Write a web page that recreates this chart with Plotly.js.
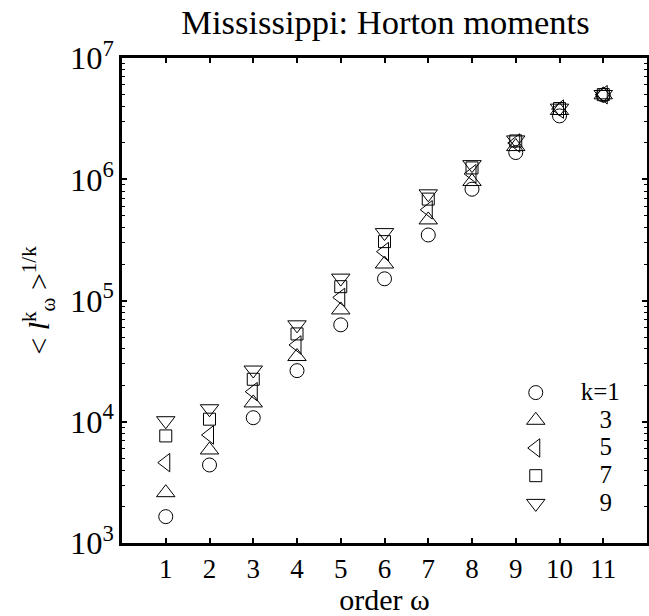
<!DOCTYPE html>
<html>
<head>
<meta charset="utf-8">
<script src="https://cdn.plot.ly/plotly-3.0.1.min.js"></script>
<style>html,body{margin:0;padding:0;background:#fff;}#chart{width:649px;height:616px;}</style>
</head>
<body>
<div id="chart"></div>
<script>
const orders = [1, 2, 3, 4, 5, 6, 7, 8, 9, 10, 11];
const momentK1 = [1650, 4400, 10800, 26400, 63000, 151000, 347000, 828000, 1660000, 3330000, 4950000];
const momentK3 = [2600, 5850, 14300, 34500, 83600, 200000, 462000, 957000, 1860000, 3690000, 4970000];
const momentK5 = [4600, 7780, 17700, 43000, 106000, 253000, 560000, 1110000, 1990000, 3790000, 4980000];
const momentK7 = [7640, 10500, 22400, 53000, 130000, 306000, 686000, 1240000, 2070000, 3830000, 4990000];
const momentK9 = [10200, 12800, 26700, 63000, 153000, 363000, 758000, 1320000, 2110000, 3860000, 5000000];
const seriesNames = ['k=1', '3', '5', '7', '9'];
const xTickVals = orders;

const FONT = '"Liberation Serif", "Times New Roman", serif';
const nb = n => '\u00a0'.repeat(n);

const series = [momentK1, momentK3, momentK5, momentK7, momentK9];
const symbols = ['circle-open', 'triangle-up-open', 'triangle-left-open', 'square-open', 'triangle-down-open'];
const sizes = [14, 16, 16, 12, 16];
const pads = [4, 7, 7, 7, 7];

const traces = series.map((ys, i) => ({
  x: orders,
  y: ys,
  type: 'scatter',
  mode: 'markers',
  name: '<span style="font-size:25px">' + nb(pads[i]) + seriesNames[i] + '</span>',
  marker: {symbol: symbols[i], size: sizes[i], color: 'black', line: {color: 'black', width: 1}},
  cliponaxis: false
}));

const layout = {
  width: 649,
  height: 616,
  margin: {l: 122, r: 2, t: 58, b: 73},
  paper_bgcolor: 'white',
  plot_bgcolor: 'white',
  font: {family: FONT, color: 'black', size: 26},
  title: {text: 'Mississippi: Horton moments', font: {family: FONT, size: 34.5, color: 'black'},
          x: 0.594, xanchor: 'center', y: 0.984, yanchor: 'top'},
  showlegend: true,
  legend: {x: 0.75, xanchor: 'left', y: 0.349, yanchor: 'top', bgcolor: 'rgba(0,0,0,0)',
           font: {family: FONT, size: 19, color: 'black'}, tracegroupgap: 0, itemsizing: 'trace'},
  xaxis: {
    range: [0, 12], tickvals: xTickVals, ticktext: xTickVals.map(String),
    ticks: 'inside', ticklen: 5, tickwidth: 2, tickcolor: 'black',
    showline: true, linewidth: 3, linecolor: 'black', mirror: 'ticks',
    showgrid: false, zeroline: false,
    tickfont: {family: FONT, size: 27, color: 'black'},
    title: {text: 'order ω', font: {family: FONT, size: 30, color: 'black'}, standoff: 7}
  },
  yaxis: {
    type: 'log', range: [3, 7], dtick: 1, exponentformat: 'power',
    ticks: 'inside', ticklen: 5, tickwidth: 2, tickcolor: 'black',
    minor: {ticks: 'inside', ticklen: 3, tickwidth: 1, tickcolor: 'black', dtick: 'D1', showgrid: false},
    showline: true, linewidth: 3, linecolor: 'black', mirror: 'ticks',
    showgrid: false, zeroline: false,
    tickfont: {family: FONT, size: 26, color: 'black'},
    title: {text: '< <i>l</i><sup>k</sup><sub>ω</sub> ><sup>1/k</sup>', font: {family: FONT, size: 30, color: 'black'}, standoff: 12}
  }
};

Plotly.newPlot('chart', traces, layout, {displayModeBar: false, staticPlot: true});
</script>
</body>
</html>
